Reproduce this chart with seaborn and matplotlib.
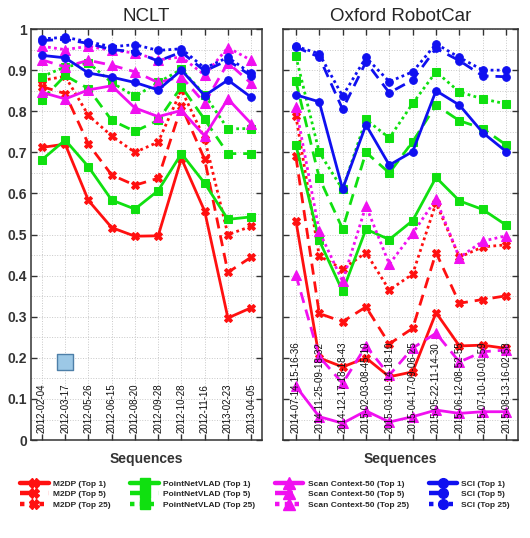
import numpy as np
import pandas as pd
import seaborn as sns
import matplotlib
import matplotlib.pyplot as plt
from matplotlib.lines import Line2D
from matplotlib.ticker import MultipleLocator

matplotlib.use('Agg')

nclt_dates = ['2012-02-04', '2012-03-17', '2012-05-26', '2012-06-15', '2012-08-20',
              '2012-09-28', '2012-10-28', '2012-11-16', '2013-02-23', '2013-04-05']
oxford_dates = ['2014-07-14-15-16-36', '2014-11-25-09-18-32', '2014-12-17-18-18-43',
                '2015-02-03-08-45-10', '2015-03-10-14-18-10', '2015-04-17-09-06-25',
                '2015-05-22-11-14-30', '2015-06-12-08-52-55', '2015-07-10-10-01-59',
                '2015-08-13-16-02-58']

methods = ['M2DP', 'PointNetVLAD', 'Scan Context-50', 'SCI']
topk = ['Top 1', 'Top 5', 'Top 25']

# NCLT recall values
nclt_m2dp_1 = [0.712, 0.72, 0.583, 0.517, 0.496, 0.497, 0.685, 0.557, 0.297, 0.322]
nclt_m2dp_5 = [0.86, 0.843, 0.72, 0.645, 0.62, 0.637, 0.812, 0.683, 0.408, 0.445]
nclt_m2dp_25 = [0.875, 0.885, 0.79, 0.74, 0.70, 0.725, 0.852, 0.733, 0.50, 0.52]
nclt_pnv_1 = [0.682, 0.73, 0.665, 0.584, 0.562, 0.607, 0.697, 0.625, 0.537, 0.543]
nclt_pnv_5 = [0.828, 0.887, 0.855, 0.778, 0.751, 0.778, 0.86, 0.78, 0.697, 0.697]
nclt_pnv_25 = [0.884, 0.908, 0.918, 0.87, 0.836, 0.87, 0.902, 0.84, 0.757, 0.758]
nclt_sc_1 = [0.846, 0.83, 0.852, 0.862, 0.808, 0.787, 0.802, 0.74, 0.83, 0.77]
nclt_sc_5 = [0.925, 0.908, 0.924, 0.912, 0.896, 0.87, 0.884, 0.82, 0.918, 0.868]
nclt_sc_25 = [0.958, 0.95, 0.958, 0.948, 0.942, 0.925, 0.932, 0.888, 0.955, 0.924]
nclt_sci_1 = [0.936, 0.93, 0.893, 0.883, 0.87, 0.852, 0.9, 0.838, 0.876, 0.834]
nclt_sci_5 = [0.972, 0.975, 0.965, 0.95, 0.945, 0.922, 0.944, 0.898, 0.924, 0.886]
nclt_sci_25 = [0.976, 0.98, 0.969, 0.957, 0.962, 0.948, 0.952, 0.905, 0.931, 0.892]

# Oxford RobotCar recall values
ox_m2dp_1 = [0.534, 0.2, 0.178, 0.2, 0.154, 0.166, 0.31, 0.229, 0.231, 0.223]
ox_m2dp_5 = [0.69, 0.308, 0.288, 0.324, 0.234, 0.272, 0.456, 0.333, 0.342, 0.351]
ox_m2dp_25 = [0.789, 0.448, 0.416, 0.456, 0.365, 0.404, 0.577, 0.445, 0.47, 0.475]
ox_pnv_1 = [0.718, 0.486, 0.362, 0.513, 0.488, 0.534, 0.639, 0.582, 0.561, 0.523]
ox_pnv_5 = [0.873, 0.638, 0.514, 0.70, 0.65, 0.726, 0.815, 0.777, 0.758, 0.718]
ox_pnv_25 = [0.934, 0.70, 0.61, 0.78, 0.735, 0.819, 0.896, 0.847, 0.83, 0.818]
ox_sc_1 = [0.131, 0.057, 0.041, 0.071, 0.044, 0.057, 0.073, 0.065, 0.069, 0.069]
ox_sc_5 = [0.402, 0.203, 0.138, 0.229, 0.158, 0.224, 0.26, 0.19, 0.215, 0.219]
ox_sc_25 = [0.81, 0.508, 0.386, 0.57, 0.428, 0.503, 0.586, 0.444, 0.484, 0.497]
ox_sci_1 = [0.84, 0.823, 0.611, 0.767, 0.669, 0.702, 0.85, 0.815, 0.748, 0.702]
ox_sci_5 = [0.956, 0.932, 0.805, 0.92, 0.845, 0.876, 0.953, 0.923, 0.886, 0.884]
ox_sci_25 = [0.958, 0.94, 0.837, 0.931, 0.872, 0.896, 0.964, 0.931, 0.9, 0.9]

# stray marker in the NCLT panel
stray_idx = [1]
stray_val = [0.19]

nclt = {
    'M2DP': [nclt_m2dp_1, nclt_m2dp_5, nclt_m2dp_25],
    'PointNetVLAD': [nclt_pnv_1, nclt_pnv_5, nclt_pnv_25],
    'Scan Context-50': [nclt_sc_1, nclt_sc_5, nclt_sc_25],
    'SCI': [nclt_sci_1, nclt_sci_5, nclt_sci_25],
}
oxford = {
    'M2DP': [ox_m2dp_1, ox_m2dp_5, ox_m2dp_25],
    'PointNetVLAD': [ox_pnv_1, ox_pnv_5, ox_pnv_25],
    'Scan Context-50': [ox_sc_1, ox_sc_5, ox_sc_25],
    'SCI': [ox_sci_1, ox_sci_5, ox_sci_25],
}

colors = {'M2DP': '#ff1010', 'PointNetVLAD': '#10e010',
          'Scan Context-50': '#f010f0', 'SCI': '#1010f0'}
markers = {'M2DP': 'X', 'PointNetVLAD': 's', 'Scan Context-50': '^', 'SCI': 'o'}
msizes = {'M2DP': 5.5, 'PointNetVLAD': 5.5, 'Scan Context-50': 6.5, 'SCI': 5.5}
styles = {'Top 1': '-', 'Top 5': (0, (4, 2.5)), 'Top 25': (0, (1, 1.2))}

sns.set_style('ticks')
plt.rcParams['font.family'] = ['Liberation Sans', 'DejaVu Sans']

fig = plt.figure(figsize=(5.3, 5.38), dpi=100)
ax1 = fig.add_axes([0.0585, 0.182, 0.436, 0.764])
ax2 = fig.add_axes([0.534, 0.182, 0.443, 0.764])


def draw_panel(ax, data, dates, title, xlim):
    for m in methods:
        for k, vals in zip(topk, data[m]):
            df = pd.DataFrame({'idx': np.arange(len(vals)), 'val': vals})
            sns.lineplot(data=df, x='idx', y='val', ax=ax, color=colors[m],
                         marker=markers[m], markersize=msizes[m],
                         markeredgecolor=colors[m], linestyle=styles[k],
                         linewidth=2.0, legend=False)
    ax.set_xlim(*xlim)
    ax.set_ylim(0, 1)
    ax.set_xticks(np.arange(len(dates)))
    ax.set_xticklabels([])
    ax.yaxis.set_major_locator(MultipleLocator(0.1))
    ax.yaxis.set_minor_locator(MultipleLocator(0.05))
    ax.grid(True, which='both', axis='y', color='#c8c8c8', linestyle=':', linewidth=0.7)
    ax.grid(True, which='major', axis='x', color='#c8c8c8', linestyle=':', linewidth=0.7)
    ax.tick_params(axis='both', which='major', direction='in', length=4,
                   top=True, right=True, width=1, color='#333333')
    ax.tick_params(axis='y', which='minor', length=0)
    for s in ax.spines.values():
        s.set_color('#333333')
        s.set_linewidth(1.1)
    # date labels sit inside the axes
    for i, d in enumerate(dates):
        ax.text(i, 0.018, d, rotation=90, ha='center', va='bottom', fontsize=7,
                color='#111111', transform=ax.get_xaxis_transform())
    ax.set_title(title, fontsize=13.5, pad=6)
    ax.set_xlabel('Sequences', fontsize=10, fontweight='bold', color='#333333', labelpad=5)
    ax.set_ylabel('')


draw_panel(ax1, nclt, nclt_dates, 'NCLT', (-0.47, 9.47))
draw_panel(ax2, oxford, oxford_dates, 'Oxford RobotCar', (-0.55, 9.5))

ax1.scatter(stray_idx, stray_val, marker='s', s=120, color='#9cc8e6',
            edgecolor='#4d7fa8', linewidth=1, zorder=5)

ax1.set_yticks(np.arange(0, 1.01, 0.1))
ax1.set_yticklabels(['0', '0.1', '0.2', '0.3', '0.4', '0.5', '0.6', '0.7', '0.8', '0.9', '1'],
                    fontsize=10, fontweight='bold', color='#333333')
ax1.tick_params(axis='y', pad=3)
ax2.set_yticklabels([])

handles = []
labels = []
for m in methods:
    for k in topk:
        handles.append(Line2D([0], [0], color=colors[m], linestyle=styles[k], linewidth=3.2,
                              marker=markers[m], markersize=msizes[m] + 1.5,
                              markeredgecolor=colors[m]))
        labels.append(f'{m} ({k})')

fig.legend(handles, labels, loc='upper center', bbox_to_anchor=(0.5, 0.122), ncol=4,
           frameon=False, handlelength=3.4, handletextpad=0.5, columnspacing=2.4,
           labelspacing=0.32, prop={'size': 6, 'weight': 'bold'})

fig.savefig('out.png', dpi=100)
plt.close(fig)
